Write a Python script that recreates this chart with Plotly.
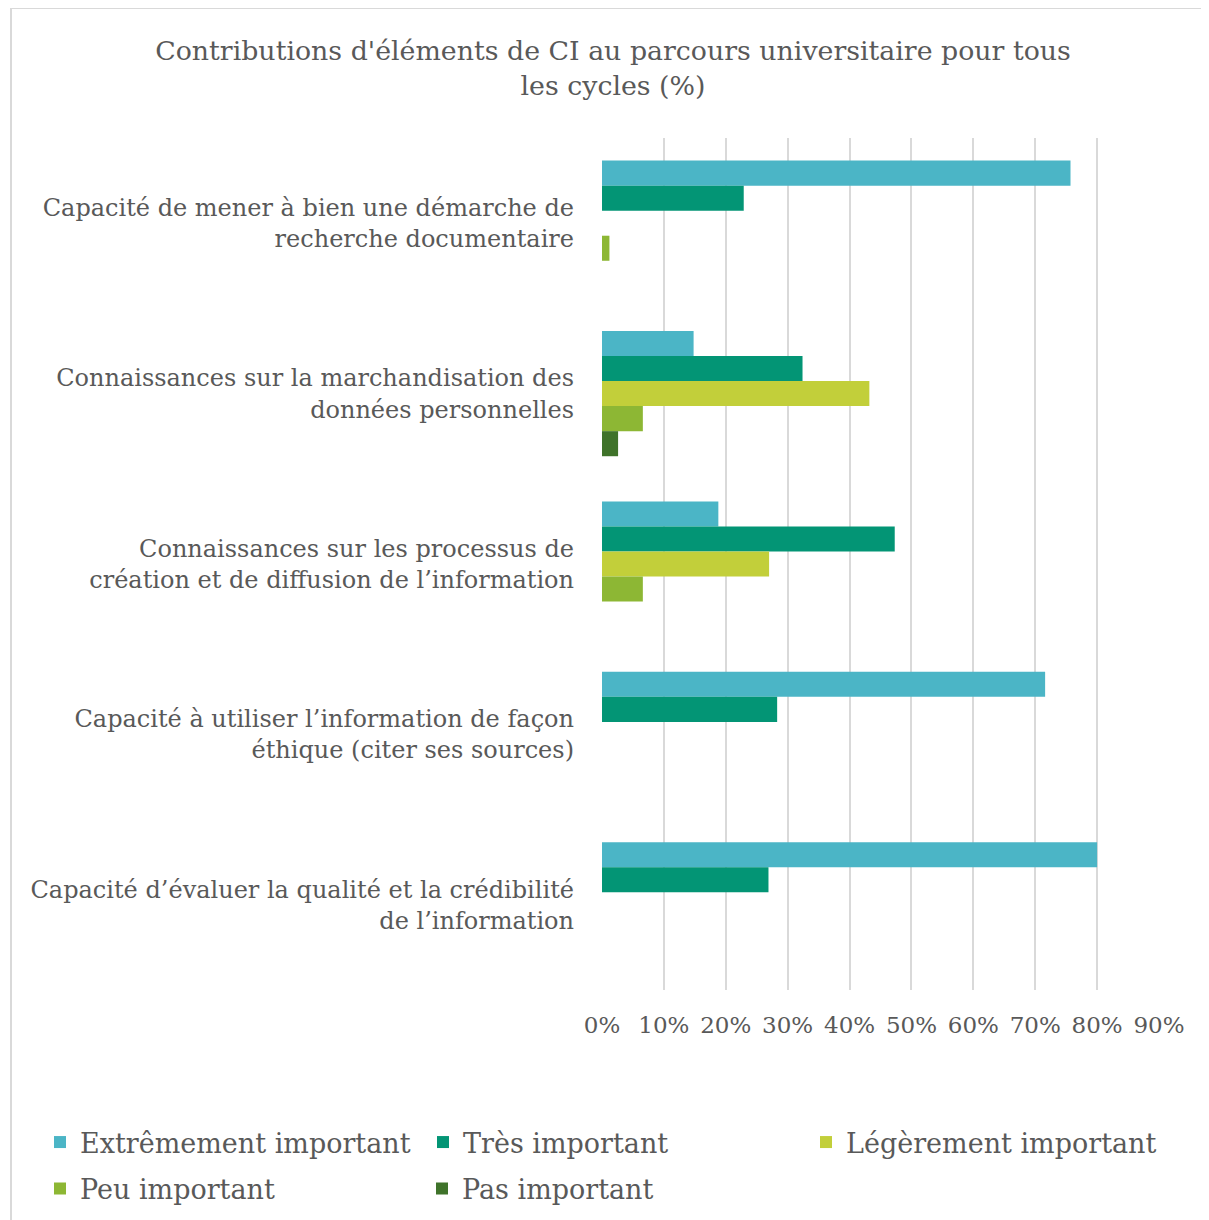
import plotly.graph_objects as go

categories = [
    "Capacité de mener à bien une démarche de<br>recherche documentaire",
    "Connaissances sur la marchandisation des<br>données personnelles",
    "Connaissances sur les processus de<br>création et de diffusion de l’information",
    "Capacité à utiliser l’information de façon<br>éthique (citer ses sources)",
    "Capacité d’évaluer la qualité et la crédibilité<br>de l’information",
]

extremement = [75.7, 14.8, 18.8, 71.6, 80.0]
tres = [22.9, 32.4, 47.3, 28.3, 26.9]
legerement = [0, 43.2, 27.0, 0, 0]
peu = [1.2, 6.6, 6.6, 0, 0]
pas = [0, 2.6, 0, 0, 0]

series_names = ["Extrêmement important", "Très important", "Légèrement important",
                "Peu important", "Pas important"]
series_values = [extremement, tres, legerement, peu, pas]
colors = ["#4BB5C6", "#039575", "#C2CF3A", "#8DB734", "#3F732A"]
legend_ids = ["legend", "legend", "legend", "legend2", "legend3"]

x_ticks = [0, 0.1, 0.2, 0.3, 0.4, 0.5, 0.6, 0.7, 0.8, 0.9]
x_tick_labels = ["0%", "10%", "20%", "30%", "40%", "50%", "60%", "70%", "80%", "90%"]

FONT = "DejaVu Serif"
GREY = "#595959"

fig = go.Figure()

for name, vals, col, lg in zip(series_names, series_values, colors, legend_ids):
    fig.add_trace(
        go.Bar(
            y=categories,
            x=[v / 100 for v in vals],
            name=name,
            orientation="h",
            marker_color=col,
            marker_line_width=0,
            legend=lg,
        )
    )

# page body has an 8px margin, so the figure is sized to fit inside it
W, H = 1201, 1212
L, R, T, B = 594, 50, 130, 230
pw, ph = W - L - R, H - T - B


def px_x(x):
    return (x - L) / pw


def px_y(y):
    return (H - B - y) / ph


legend_style = dict(
    orientation="h",
    xanchor="left",
    yanchor="top",
    font=dict(family=FONT, size=27, color=GREY),
    traceorder="normal",
    bgcolor="rgba(0,0,0,0)",
)

# first row: paper coords so the 3 columns can use the full width
row1 = dict(legend_style, x=px_x(32), y=px_y(1110),
            entrywidth=338, entrywidthmode="pixels")
# second row: single-item legends in container coords (no margin push)
row2a = dict(legend_style, xref="container", yref="container",
             x=32 / W, y=1 - 1156.5 / H)
row2b = dict(legend_style, xref="container", yref="container",
             x=414 / W, y=1 - 1156.5 / H)

fig.update_layout(
    width=W,
    height=H,
    margin=dict(l=L, r=R, t=T, b=B, pad=0),
    paper_bgcolor="white",
    plot_bgcolor="white",
    barmode="group",
    bargap=0.265,
    bargroupgap=0,
    font=dict(family=FONT, size=24, color=GREY),
    title=dict(
        text="Contributions d'éléments de CI au parcours universitaire pour tous<br>les cycles (%)",
        x=605 / W,
        xanchor="center",
        xref="container",
        y=1 - 52 / H,
        yanchor="top",
        yref="container",
        font=dict(family=FONT, size=26.8, color=GREY),
    ),
    xaxis=dict(
        range=[0, 0.9],
        tickvals=x_ticks,
        ticktext=x_tick_labels,
        showgrid=True,
        gridcolor="#D9D9D9",
        gridwidth=2,
        zeroline=False,
        showline=False,
        ticks="",
        ticklabelstandoff=19,
        tickfont=dict(family=FONT, size=23, color=GREY),
        fixedrange=True,
    ),
    yaxis=dict(
        autorange="reversed",
        showgrid=False,
        zeroline=False,
        showline=False,
        ticks="",
        ticklabelstandoff=27,
        tickfont=dict(family=FONT, size=24, color=GREY),
    ),
    legend=row1,
    legend2=row2a,
    legend3=row2b,
    shapes=[
        dict(
            type="rect",
            xref="paper",
            yref="paper",
            x0=px_x(3),
            x1=px_x(W + 30),
            y0=px_y(H + 30),
            y1=px_y(0),
            line=dict(color="#D9D9D9", width=2),
            fillcolor="rgba(0,0,0,0)",
            layer="below",
        )
    ],
)

fig.write_html("out.html")
